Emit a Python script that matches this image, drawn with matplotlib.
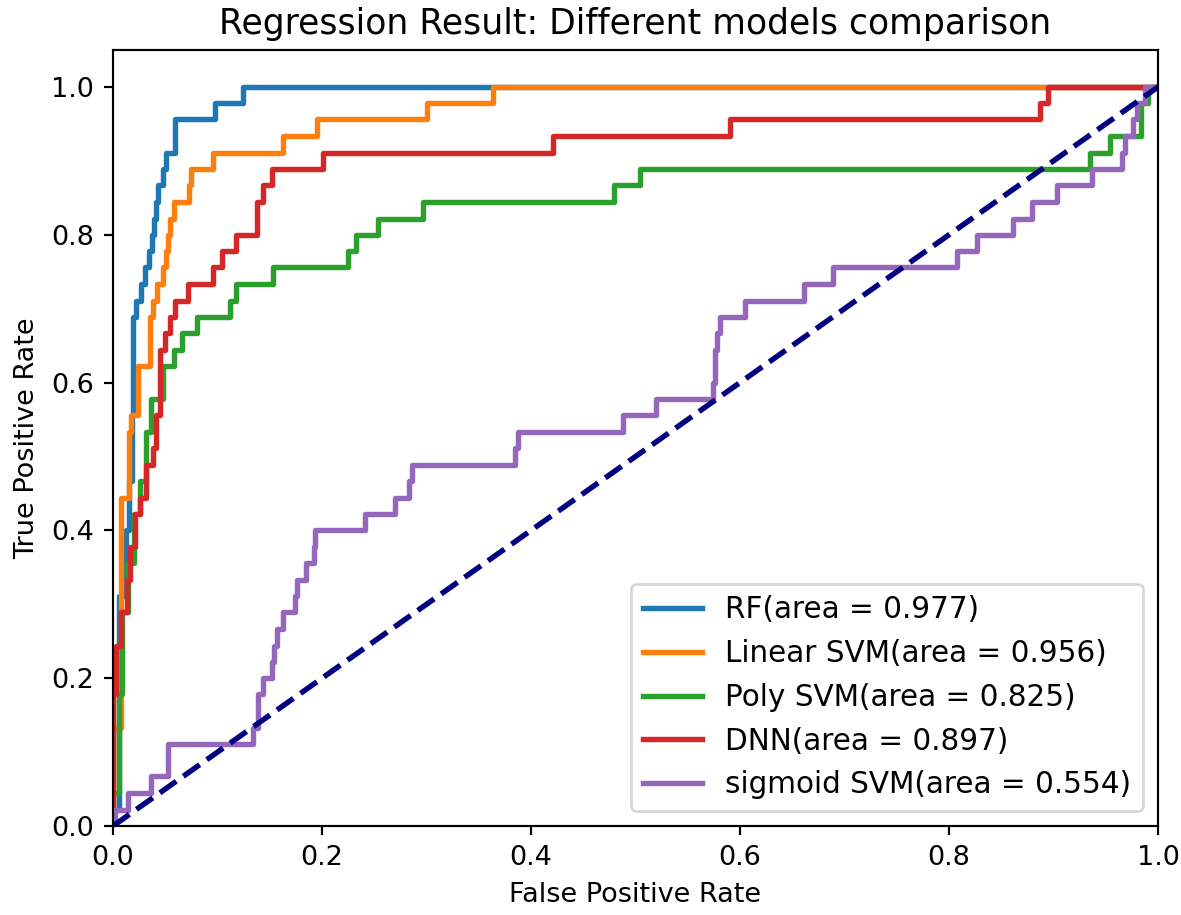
import matplotlib
matplotlib.use("Agg")
import matplotlib.pyplot as plt

# ROC curve corner points (fpr, tpr)
rf_fpr = [0, 0, 0.006, 0.012, 0.015, 0.018, 0.019, 0.022, 0.027, 0.031, 0.034, 0.037, 0.039, 0.041,
          0.043, 0.048, 0.051, 0.059, 0.098, 0.124, 1.0]
rf_tpr = [0, 0.022, 0.311, 0.400, 0.467, 0.556, 0.689, 0.711, 0.733, 0.756, 0.778, 0.800, 0.822, 0.844,
          0.867, 0.889, 0.911, 0.956, 0.978, 1.0, 1.0]

lin_fpr = [0, 0, 0.008, 0.015, 0.0175, 0.024, 0.035, 0.0386, 0.042, 0.048, 0.051, 0.053, 0.055, 0.058,
           0.073, 0.075, 0.096, 0.163, 0.195, 0.300, 0.364, 1.0]
lin_tpr = [0, 0.133, 0.444, 0.533, 0.556, 0.622, 0.689, 0.711, 0.733, 0.756, 0.778, 0.800, 0.822, 0.844,
           0.867, 0.889, 0.911, 0.933, 0.956, 0.978, 1.0, 1.0]

poly_fpr = [0, 0, 0.006, 0.009, 0.014, 0.020, 0.026, 0.032, 0.036, 0.048, 0.058, 0.066, 0.080, 0.112,
            0.118, 0.153, 0.225, 0.233, 0.254, 0.297, 0.479, 0.504, 0.935, 0.954, 0.984, 0.990, 1.0]
poly_tpr = [0, 0.044, 0.178, 0.289, 0.356, 0.422, 0.467, 0.533, 0.578, 0.622, 0.644, 0.667, 0.689, 0.711,
            0.733, 0.756, 0.778, 0.800, 0.822, 0.844, 0.867, 0.889, 0.911, 0.933, 0.978, 1.0, 1.0]

dnn_fpr = [0, 0, 0.003, 0.008, 0.013, 0.016, 0.021, 0.0255, 0.032, 0.038, 0.041, 0.045, 0.0495, 0.0545,
           0.059, 0.072, 0.096, 0.104, 0.118, 0.1375, 0.144, 0.152, 0.2006, 0.4214, 0.590, 0.887, 0.895, 1.0]
dnn_tpr = [0, 0.178, 0.244, 0.289, 0.333, 0.378, 0.422, 0.444, 0.489, 0.511, 0.556, 0.644, 0.667, 0.689,
           0.711, 0.733, 0.756, 0.778, 0.800, 0.844, 0.867, 0.889, 0.911, 0.933, 0.956, 0.978, 1.0, 1.0]

sig_fpr = [0, 0.002, 0.0144, 0.0367, 0.0526, 0.134, 0.139, 0.144, 0.152, 0.154, 0.157, 0.163, 0.174,
           0.176, 0.185, 0.192, 0.193, 0.241, 0.270, 0.2836, 0.286, 0.3847, 0.388, 0.488, 0.520, 0.5745,
           0.576, 0.578, 0.581, 0.605, 0.661, 0.689, 0.808, 0.8265, 0.8615, 0.879, 0.903, 0.9365, 0.9653,
           0.968, 0.9764, 0.9796, 0.9876, 1.0]
sig_tpr = [0, 0.022, 0.044, 0.067, 0.111, 0.133, 0.178, 0.200, 0.222, 0.244, 0.267, 0.289, 0.311,
           0.333, 0.356, 0.378, 0.400, 0.422, 0.444, 0.467, 0.489, 0.511, 0.533, 0.556, 0.578, 0.600,
           0.644, 0.667, 0.689, 0.711, 0.733, 0.756, 0.778, 0.800, 0.822, 0.844, 0.867, 0.889, 0.911,
           0.933, 0.956, 0.978, 1.0, 1.0]

labels = ["RF(area = 0.977)", "Linear SVM(area = 0.956)", "Poly SVM(area = 0.825)",
          "DNN(area = 0.897)", "sigmoid SVM(area = 0.554)"]
colors = ["#1f77b4", "#ff7f0e", "#2ca02c", "#d62728", "#9467bd"]

DPI = 195
fig = plt.figure(figsize=(1181 / DPI, 915 / DPI), dpi=DPI)
ax = fig.add_axes([113 / 1181, 1 - 826 / 915, 1045 / 1181, 776 / 915])

curves = [(rf_fpr, rf_tpr), (lin_fpr, lin_tpr), (poly_fpr, poly_tpr), (dnn_fpr, dnn_tpr), (sig_fpr, sig_tpr)]
for (f, t), lab, c in zip(curves, labels, colors):
    ax.plot(f, t, drawstyle="steps-post", color=c, lw=2, label=lab)

ax.plot([0, 1], [0, 1], color="navy", lw=2, linestyle="--")
ax.set_xlim(0.0, 1.0)
ax.set_ylim(0.0, 1.05)
ax.set_xlabel("False Positive Rate")
ax.set_ylabel("True Positive Rate")
ax.set_title("Regression Result: Different models comparison", fontsize=12.8)
ax.legend(loc="lower right", fontsize=10.9)

fig.savefig("out.png", dpi=DPI)
